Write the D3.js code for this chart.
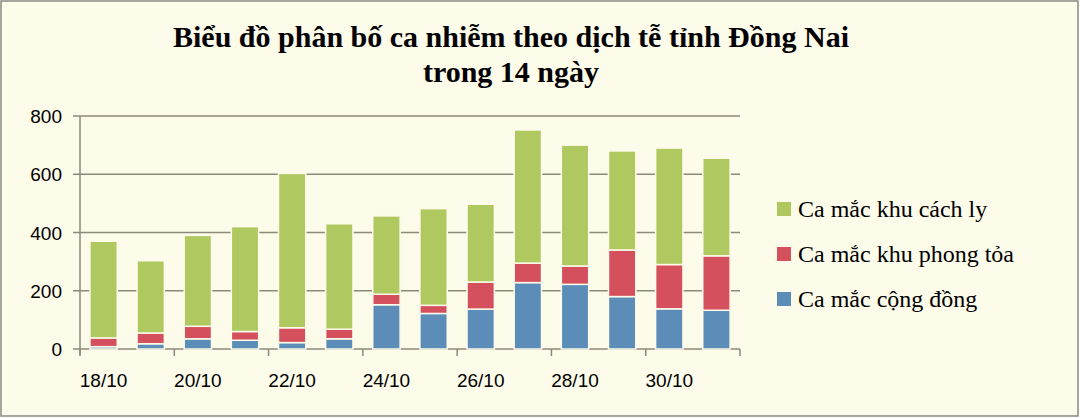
<!DOCTYPE html><html><head><meta charset="utf-8"><script src="https://d3js.org/d3.v7.min.js"></script>
<style>body{margin:0;background:#fff}</style></head><body><svg id="c" width="1080" height="418"></svg>
<script>
const categories=["18/10","19/10","20/10","21/10","22/10","23/10","24/10","25/10","26/10","27/10","28/10","29/10","30/10","31/10"];
const congDong=[8,18,35,30,22,35,152,122,137,228,222,180,138,133];
const phongToa=[30,37,43,30,51,33,36,28,93,67,63,160,152,187];
const cachLy=[332,248,312,360,530,362,269,332,267,457,415,340,400,335];
const seriesNames=["Ca mắc cộng đồng","Ca mắc khu phong tỏa","Ca mắc khu cách ly"];
const colors=["#5b8db8","#d5505d","#afc85f"];
const yTicks=[0,200,400,600,800];
const svg=d3.select("#c");
svg.append("rect").attr("x",1).attr("y",1).attr("width",1077).attr("height",415).attr("fill","#fdfbe9").attr("stroke","#8a8a80").attr("stroke-width",1.5);
svg.append("text").attr("x",511).attr("y",47).attr("text-anchor","middle").attr("font-family","Liberation Serif").attr("font-weight","bold").attr("font-size",30).text("Biểu đồ phân bố ca nhiễm theo dịch tễ tỉnh Đồng Nai");
svg.append("text").attr("x",511).attr("y",82).attr("text-anchor","middle").attr("font-family","Liberation Serif").attr("font-weight","bold").attr("font-size",30).text("trong 14 ngày");
const x=d3.scaleBand().domain(categories).range([80,740]).paddingInner(0.42).paddingOuter(0.21);
const y=d3.scaleLinear().domain([0,800]).range([349,116]);
const g=svg.append("g");
yTicks.forEach(t=>{g.append("line").attr("x1",73).attr("x2",740).attr("y1",y(t)).attr("y2",y(t)).attr("stroke","#8c8a78").attr("stroke-width",t===0?1.5:1.3);
 g.append("text").attr("x",62).attr("y",y(t)+7).attr("text-anchor","end").attr("font-family","Liberation Sans").attr("font-size",19).text(t);});
g.append("line").attr("x1",80).attr("x2",80).attr("y1",116).attr("y2",355).attr("stroke","#8c8a78").attr("stroke-width",1.5);
for(let i=0;i<=14;i+=2){const xp=80+i*(660/14);g.append("line").attr("x1",xp).attr("x2",xp).attr("y1",349).attr("y2",356).attr("stroke","#8c8a78").attr("stroke-width",1.5);}
categories.forEach((c,i)=>{if(i%2===0)g.append("text").attr("x",x(c)+x.bandwidth()/2).attr("y",387).attr("text-anchor","middle").attr("font-family","Liberation Sans").attr("font-size",19).text(c);});
const data=categories.map((c,i)=>({c,s0:congDong[i],s1:phongToa[i],s2:cachLy[i]}));
const stack=d3.stack().keys(["s0","s1","s2"])(data);
stack.forEach((layer,k)=>{g.selectAll(null).data(layer).enter().append("rect").attr("x",d=>x(d.data.c)).attr("width",x.bandwidth()).attr("y",d=>y(d[1])).attr("height",d=>y(d[0])-y(d[1])).attr("fill",colors[k]).attr("stroke","#fdfbe9").attr("stroke-width",1.5);});
const leg=[{n:seriesNames[2],c:colors[2],y:210},{n:seriesNames[1],c:colors[1],y:255},{n:seriesNames[0],c:colors[0],y:300}];
leg.forEach(l=>{svg.append("rect").attr("x",777).attr("y",l.y-8).attr("width",14).attr("height",14).attr("fill",l.c);
 svg.append("text").attr("x",798).attr("y",l.y+7).attr("font-family","Liberation Serif").attr("font-size",24).text(l.n);});
</script></body></html>
